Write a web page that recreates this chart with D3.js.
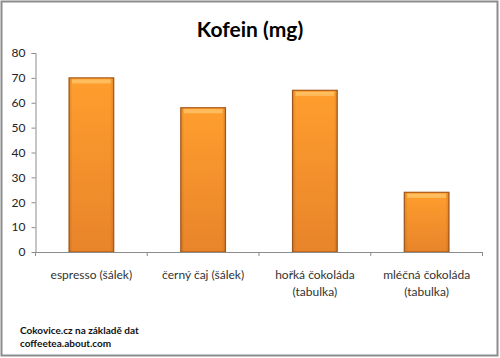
<!DOCTYPE html>
<html><head><meta charset="utf-8">
<script src="https://cdn.jsdelivr.net/npm/d3@7"></script>
<style>
html,body{margin:0;padding:0;background:#fff;}
svg{display:block;}
</style></head>
<body>
<svg id="chart" width="500" height="358"></svg>
<script>
const categories = [["espresso (šálek)"], ["černý čaj (šálek)"], ["hořká čokoláda", "(tabulka)"], ["mléčná čokoláda", "(tabulka)"]];
const values = [70, 58, 65, 24];
const yTicks = [0, 10, 20, 30, 40, 50, 60, 70, 80];
const title = "Kofein (mg)";
const sourceLines = ["Cokovice.cz na základě dat", "coffeetea.about.com"];

const svg = d3.select("#chart");
const font = "Lato, 'Open Sans', 'Noto Sans', sans-serif";
const plotL = 35.5, plotR = 482.5, plotT = 53, plotB = 252;

// frame
svg.append("rect").attr("x", 1.5).attr("y", 1.5).attr("width", 496).attr("height", 354)
  .attr("fill", "#fff").attr("stroke", "#8c8c8c").attr("stroke-width", 2);

const defs = svg.append("defs");
const g1 = defs.append("linearGradient").attr("id", "barGrad").attr("x1", 0).attr("y1", 0).attr("x2", 0).attr("y2", 1);
g1.append("stop").attr("offset", "0%").attr("stop-color", "#ff9e2e");
g1.append("stop").attr("offset", "100%").attr("stop-color", "#e8842a");
const g2 = defs.append("linearGradient").attr("id", "edgeGrad").attr("x1", 0).attr("y1", 0).attr("x2", 1).attr("y2", 0);
g2.append("stop").attr("offset", "0%").attr("stop-color", "#000").attr("stop-opacity", 0.12);
g2.append("stop").attr("offset", "8%").attr("stop-color", "#000").attr("stop-opacity", 0);
g2.append("stop").attr("offset", "92%").attr("stop-color", "#000").attr("stop-opacity", 0);
g2.append("stop").attr("offset", "100%").attr("stop-color", "#000").attr("stop-opacity", 0.12);

const x = d3.scaleBand().domain(d3.range(categories.length)).range([plotL, plotR]).paddingInner(0.6).paddingOuter(0.3);
const y = d3.scaleLinear().domain([0, 80]).range([plotB, plotT]);

// title
svg.append("text").attr("x", 250).attr("y", 37).attr("text-anchor", "middle")
  .attr("font-family", font).attr("font-weight", "bold").attr("font-size", 21).attr("fill", "#000").text(title);

// y axis
const yAxis = svg.append("g").attr("transform", `translate(${plotL},0)`)
  .call(d3.axisLeft(y).tickValues(yTicks).tickSize(4).tickPadding(6));
yAxis.selectAll("path,line").attr("stroke", "#8c8c8c");
yAxis.selectAll("text").attr("font-family", font).attr("font-size", 12).attr("fill", "#222");
yAxis.select(".domain").attr("d", `M-4,${plotT + 0.5}H0.5V${plotB}`);

// bars
const bars = svg.append("g").selectAll("g").data(values).join("g");
bars.append("rect")
  .attr("x", (d, i) => x(i)).attr("y", d => y(d))
  .attr("width", x.bandwidth()).attr("height", d => plotB - y(d))
  .attr("fill", "url(#barGrad)").attr("stroke", "#a95a1c").attr("stroke-width", 1.2);
bars.append("rect")
  .attr("x", (d, i) => x(i)).attr("y", d => y(d))
  .attr("width", x.bandwidth()).attr("height", d => plotB - y(d))
  .attr("fill", "url(#edgeGrad)");
bars.append("rect")
  .attr("x", (d, i) => x(i) + 3).attr("y", d => y(d) + 1.5)
  .attr("width", x.bandwidth() - 6).attr("height", 4)
  .attr("fill", "#ffc56a").attr("opacity", 0.8);

// x axis
const step = (plotR - plotL) / categories.length;
const xAxis = svg.append("g").attr("transform", `translate(0,${plotB})`);
xAxis.append("line").attr("x1", plotL).attr("x2", plotR).attr("y1", 0.5).attr("y2", 0.5).attr("stroke", "#8c8c8c");
xAxis.selectAll("line.tick").data(d3.range(categories.length + 1)).join("line").attr("class", "tick")
  .attr("x1", i => plotL + i * step).attr("x2", i => plotL + i * step)
  .attr("y1", 0).attr("y2", 4).attr("stroke", "#8c8c8c");
const labels = xAxis.selectAll("text").data(categories).join("text")
  .attr("text-anchor", "middle").attr("font-family", font).attr("font-size", 12).attr("fill", "#333")
  .attr("x", (d, i) => x(i) + x.bandwidth() / 2);
labels.selectAll("tspan").data(d => d).join("tspan")
  .attr("x", function () { return d3.select(this.parentNode).attr("x"); })
  .attr("y", (d, j) => 27 + j * 17).text(d => d);

// source
svg.append("g").selectAll("text").data(sourceLines).join("text")
  .attr("x", 20).attr("y", (d, i) => 334 + i * 13)
  .attr("font-family", font).attr("font-weight", "bold").attr("font-size", 10).attr("fill", "#111").text(d => d);
</script>
</body></html>
